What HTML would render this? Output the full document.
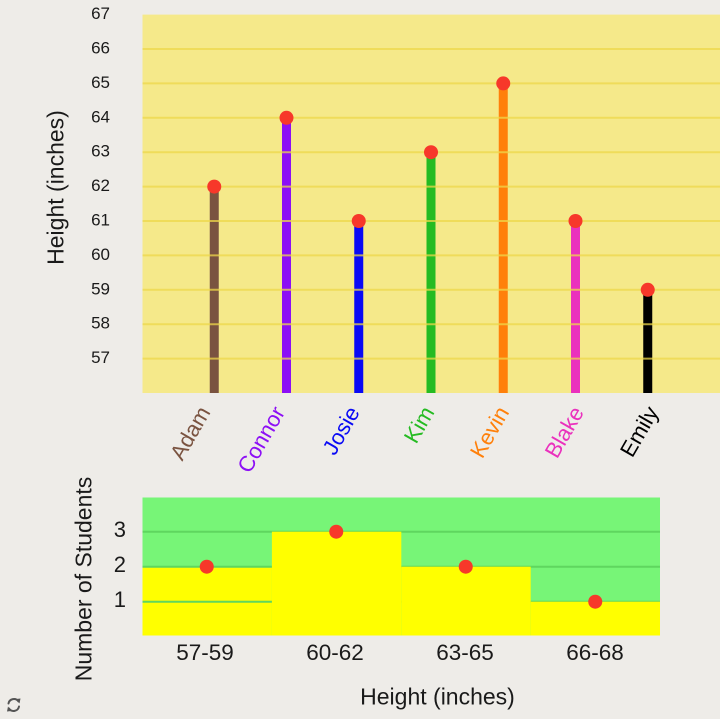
<!DOCTYPE html>
<html>
<head>
<meta charset="utf-8">
<style>
html,body{margin:0;padding:0;background:#eeece8;}
svg{display:block;font-family:"Liberation Sans",Arial,sans-serif;}
</style>
</head>
<body>
<svg width="720" height="719" viewBox="0 0 720 719" xmlns="http://www.w3.org/2000/svg">
  <rect x="0" y="0" width="720" height="719" fill="#eeece8"/>

  <!-- TOP CHART -->
  <rect x="142.5" y="14.6" width="577.5" height="378.4" fill="#f5e98a"/>

  <!-- bars -->
  <g stroke-width="9">
    <line x1="214.25" y1="186.6" x2="214.25" y2="393" stroke="#7a5340"/>
    <line x1="286.5" y1="117.8" x2="286.5" y2="393" stroke="#8c0ff5"/>
    <line x1="358.75" y1="221" x2="358.75" y2="393" stroke="#0a0af5"/>
    <line x1="431" y1="152.2" x2="431" y2="393" stroke="#25bb22"/>
    <line x1="503.25" y1="83.4" x2="503.25" y2="393" stroke="#ff800a"/>
    <line x1="575.5" y1="221" x2="575.5" y2="393" stroke="#ea31bd"/>
    <line x1="647.75" y1="289.8" x2="647.75" y2="393" stroke="#000000"/>
  </g>

  <!-- gridlines -->
  <g stroke="#eed84a" stroke-width="2" opacity="0.75">
    <line x1="142.5" y1="49" x2="720" y2="49"/>
    <line x1="142.5" y1="83.4" x2="720" y2="83.4"/>
    <line x1="142.5" y1="117.8" x2="720" y2="117.8"/>
    <line x1="142.5" y1="152.2" x2="720" y2="152.2"/>
    <line x1="142.5" y1="186.6" x2="720" y2="186.6"/>
    <line x1="142.5" y1="221" x2="720" y2="221"/>
    <line x1="142.5" y1="255.4" x2="720" y2="255.4"/>
    <line x1="142.5" y1="289.8" x2="720" y2="289.8"/>
    <line x1="142.5" y1="324.2" x2="720" y2="324.2"/>
    <line x1="142.5" y1="358.6" x2="720" y2="358.6"/>
  </g>

  <!-- dots -->
  <g fill="#f7382a">
    <circle cx="214.25" cy="186.6" r="7"/>
    <circle cx="286.5" cy="117.8" r="7"/>
    <circle cx="358.75" cy="221" r="7"/>
    <circle cx="431" cy="152.2" r="7"/>
    <circle cx="503.25" cy="83.4" r="7"/>
    <circle cx="575.5" cy="221" r="7"/>
    <circle cx="647.75" cy="289.8" r="7"/>
  </g>

  <!-- y tick labels -->
  <g font-size="17" fill="#1a1a1a" text-anchor="end">
    <text x="110" y="19.1">67</text>
    <text x="110" y="53.5">66</text>
    <text x="110" y="87.9">65</text>
    <text x="110" y="122.3">64</text>
    <text x="110" y="156.7">63</text>
    <text x="110" y="191.1">62</text>
    <text x="110" y="225.5">61</text>
    <text x="110" y="259.9">60</text>
    <text x="110" y="294.3">59</text>
    <text x="110" y="328.7">58</text>
    <text x="110" y="363.1">57</text>
  </g>

  <text transform="translate(63.5,187.5) rotate(-90)" font-size="23" fill="#1a1a1a" text-anchor="middle">Height (inches)</text>

  <!-- x labels -->
  <g font-size="22" text-anchor="end">
    <text transform="translate(211,412) rotate(-60)" fill="#7a5340">Adam</text>
    <text transform="translate(285.7,412) rotate(-60)" fill="#8c0ff5">Connor</text>
    <text transform="translate(360.4,412) rotate(-60)" fill="#0a0af5">Josie</text>
    <text transform="translate(435.1,412) rotate(-60)" fill="#25bb22">Kim</text>
    <text transform="translate(509.8,412) rotate(-60)" fill="#ff800a">Kevin</text>
    <text transform="translate(584.5,412) rotate(-60)" fill="#ea31bd">Blake</text>
    <text transform="translate(659.2,412) rotate(-60)" fill="#000000">Emily</text>
  </g>

  <!-- BOTTOM CHART -->
  <rect x="142.5" y="497.5" width="517.5" height="138" fill="#77f577"/>
  <rect x="142.5" y="566.7" width="129.4" height="68.8" fill="#ffff00"/>
  <g stroke="#5fd65f" stroke-width="2">
    <line x1="142.5" y1="531.7" x2="660" y2="531.7"/>
    <line x1="142.5" y1="566.7" x2="660" y2="566.7"/>
    <line x1="142.5" y1="601.7" x2="660" y2="601.7"/>
  </g>
  <rect x="271.9" y="531.7" width="129.4" height="103.8" fill="#ffff00"/>
  <rect x="401.3" y="566.7" width="129.4" height="68.8" fill="#ffff00"/>
  <rect x="530.7" y="601.7" width="129.3" height="33.8" fill="#ffff00"/>

  <g fill="#f7382a">
    <circle cx="206.75" cy="566.7" r="7"/>
    <circle cx="336.25" cy="531.7" r="7"/>
    <circle cx="465.75" cy="566.7" r="7"/>
    <circle cx="595.25" cy="601.7" r="7"/>
  </g>

  <g font-size="22" fill="#1a1a1a" text-anchor="end">
    <text x="126" y="537">3</text>
    <text x="126" y="572">2</text>
    <text x="126" y="607">1</text>
  </g>

  <g font-size="22.5" fill="#1a1a1a" text-anchor="middle">
    <text x="205" y="660">57-59</text>
    <text x="335" y="660">60-62</text>
    <text x="465" y="660">63-65</text>
    <text x="595" y="660">66-68</text>
  </g>

  <text transform="translate(91.5,579) rotate(-90)" font-size="23" fill="#1a1a1a" text-anchor="middle">Number of Students</text>
  <text x="437.5" y="704.5" font-size="23" fill="#1a1a1a" text-anchor="middle">Height (inches)</text>

  <!-- refresh icon -->
  <g fill="none" stroke="#555" stroke-width="2" stroke-linecap="round">
    <path d="M8.5 703.5 A5.5 5.5 0 0 1 18.5 701.5"/>
    <path d="M19 706.5 A5.5 5.5 0 0 1 9 708.5"/>
  </g>
  <g fill="#555">
    <polygon points="16,699 20.5,698.5 19.5,703.5"/>
    <polygon points="11.5,711 7,711.5 8,706.5"/>
  </g>
</svg>
</body>
</html>
